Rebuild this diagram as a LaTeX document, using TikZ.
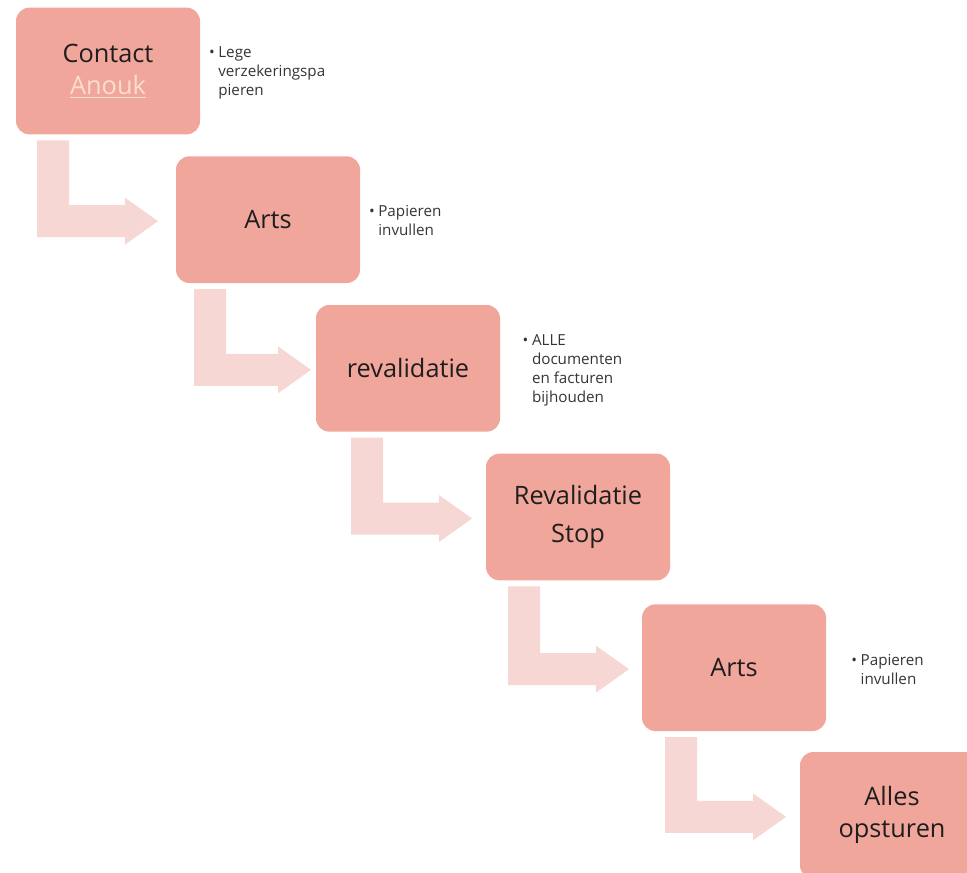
\documentclass[tikz,border=0pt]{standalone}
\usepackage{fontspec}
\setmainfont{Open Sans}
\usepackage{tikz}
\usetikzlibrary{positioning,calc}

\definecolor{boxfill}{RGB}{241,166,155}
\definecolor{bentfill}{RGB}{247,215,211}
\definecolor{inktext}{RGB}{30,30,30}
\definecolor{linkpeach}{RGB}{251,222,205}

% bent arrow from below one box into the side of the next
\newcommand{\bentarrow}[4]{%
  \fill[bent] let \p1=($(#1.south west)+(#3,6)$), \p2=($(#2.west)+(-#4,1.5)$) in
    (\x1,\y1) -| (\x1+24pt,\y2+12pt) -| (\x2-24.75pt,\y2+17.6pt) -- (\p2)
    -- (\x2-24.75pt,\y2-17.6pt) |- (\x1,\y2-12pt) -- cycle;}

\begin{document}
\begin{tikzpicture}[
    x=0.75pt, y=-0.75pt,
    box/.style={fill=boxfill, rounded corners=10pt, minimum width=138pt, minimum height=95pt,
        inner sep=0pt, outer sep=0pt, align=center, text=inktext,
        font=\fontsize{19}{24}\selectfont},
    bent/.style={fill=bentfill},
    note/.style={anchor=north west, inner sep=0pt, outer sep=0pt, text=inktext!90,
        font=\fontsize{11.4}{14.25}\selectfont}
]
    \useasboundingbox (0,0) rectangle (967,872);
    \clip (0,0) rectangle (967,872);

    % Steps
    \node[box] (contact) at (108,71) {Contact\\\textcolor{linkpeach}{\underline{Anouk}}};
    \node[box, below right=16.5pt and -18pt of contact] (arts1) {Arts};
    \node[box, below right=16.5pt and -33pt of arts1] (reval) {revalidatie};
    \node[box, below right=16.5pt and -10.5pt of reval] (stop) {Revalidatie\\[4pt]Stop};
    \node[box, below right=18pt and -21pt of stop] (arts2) {Arts};
    \node[box, below right=15.75pt and -19.5pt of arts2] (send) {Alles\\opsturen};

    % Bent arrows between steps
    \bentarrow{contact}{arts1}{21}{18}
    \bentarrow{arts1}{reval}{18}{5}
    \bentarrow{reval}{stop}{35}{14}
    \bentarrow{stop}{arts2}{22}{13}
    \bentarrow{arts2}{send}{23}{14}

    % Notes
    \node[note, below right=29.25pt and 6.75pt of contact.north east] (n1)
        {\makebox[7pt][l]{\textbullet}\parbox[t]{90pt}{Lege\\verzekeringspa\\pieren}};
    \node[note, below right=36.75pt and 6.75pt of arts1.north east] (n2)
        {\makebox[7pt][l]{\textbullet}\parbox[t]{90pt}{Papieren\\invullen}};
    \node[note, below right=22.5pt and 17pt of reval.north east] (n3)
        {\makebox[7pt][l]{\textbullet}\parbox[t]{90pt}{ALLE\\documenten\\en facturen\\bijhouden}};
    \node[note, below right=37.5pt and 19pt of arts2.north east] (n5)
        {\makebox[7pt][l]{\textbullet}\parbox[t]{90pt}{Papieren\\invullen}};
\end{tikzpicture}
\end{document}
